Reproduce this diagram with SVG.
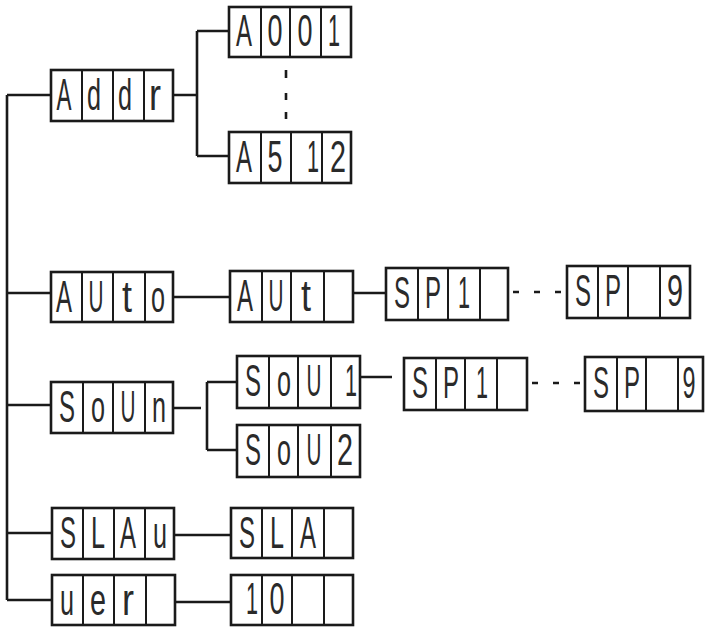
<svg xmlns="http://www.w3.org/2000/svg" width="706" height="628" viewBox="0 0 706 628">
<style>
.box{fill:#fff;stroke:#1a1a1a;stroke-width:2.6}
.div{stroke:#1a1a1a;stroke-width:2}
.ln{stroke:#1a1a1a;stroke-width:2.6;fill:none}
.dash{stroke:#1a1a1a;stroke-width:2.6;stroke-dasharray:6 15;fill:none}
.g{font-family:"Liberation Sans",Arial,sans-serif;font-size:44px;fill:#2a2a2a;text-anchor:middle}
</style>
<rect width="706" height="628" fill="#fff"/>
<g id="connectors">
<path class="ln" d="M7 95V600M7 95H51M7 293H51M7 405H51M7 533H52M7 600H52"/>
<path class="ln" d="M173 95H197M197 31V156M197 31H229M197 156H229"/>
<path class="ln" d="M286 70V78M286 93V100M286 112V119"/>
<path class="ln" d="M173 297H230M353 293H386"/>
<path class="dash" d="M513 292H562"/>
<path class="ln" d="M173 408H201M207 382V450M207 382H237M207 450H237M360 377H392"/>
<path class="dash" d="M532 383H583"/>
<path class="ln" d="M174 535H231M176 602H233"/>
</g>
<g id="addr">
<rect class="box" x="51" y="70" width="122" height="51"/>
<path class="div" d="M82 70V121M113 70V121M144 70V121"/>
<text class="g" x="64" y="110" textLength="15" lengthAdjust="spacingAndGlyphs">A</text>
<text class="g" x="94" y="110" textLength="14" lengthAdjust="spacingAndGlyphs">d</text>
<text class="g" x="125" y="110" textLength="14" lengthAdjust="spacingAndGlyphs">d</text>
<text class="g" x="155" y="110" textLength="12" lengthAdjust="spacingAndGlyphs">r</text>
</g>
<g id="a001">
<rect class="box" x="229" y="7" width="122" height="50"/>
<path class="div" d="M261 7V57M290 7V57M321 7V57"/>
<text class="g" x="244" y="46" textLength="16" lengthAdjust="spacingAndGlyphs">A</text>
<text class="g" x="275" y="46" textLength="15" lengthAdjust="spacingAndGlyphs">0</text>
<text class="g" x="305" y="46" textLength="15" lengthAdjust="spacingAndGlyphs">0</text>
<text class="g" x="334" y="46" textLength="12" lengthAdjust="spacingAndGlyphs">1</text>
</g>
<g id="a512">
<rect class="box" x="229" y="132" width="122" height="51"/>
<path class="div" d="M261 132V183M291 132V183M322 132V183"/>
<text class="g" x="244" y="172" textLength="16" lengthAdjust="spacingAndGlyphs">A</text>
<text class="g" x="275" y="172" textLength="15" lengthAdjust="spacingAndGlyphs">5</text>
<text class="g" x="313" y="172" textLength="12" lengthAdjust="spacingAndGlyphs">1</text>
<text class="g" x="338" y="172" textLength="16" lengthAdjust="spacingAndGlyphs">2</text>
</g>
<g id="auto">
<rect class="box" x="51" y="272" width="122" height="50"/>
<path class="div" d="M82 272V322M113 272V322M145 272V322"/>
<text class="g" x="64" y="312" textLength="16" lengthAdjust="spacingAndGlyphs">A</text>
<text class="g" x="96" y="312" textLength="15" lengthAdjust="spacingAndGlyphs">U</text>
<text class="g" x="127" y="312" textLength="10" lengthAdjust="spacingAndGlyphs">t</text>
<text class="g" x="158" y="312" textLength="14" lengthAdjust="spacingAndGlyphs">o</text>
</g>
<g id="aut">
<rect class="box" x="230" y="271" width="123" height="51"/>
<path class="div" d="M262 271V322M291 271V322M324 271V322"/>
<text class="g" x="245" y="311" textLength="16" lengthAdjust="spacingAndGlyphs">A</text>
<text class="g" x="276" y="311" textLength="15" lengthAdjust="spacingAndGlyphs">U</text>
<text class="g" x="306" y="311" textLength="10" lengthAdjust="spacingAndGlyphs">t</text>
</g>
<g id="sp1-auto">
<rect class="box" x="386" y="268" width="122" height="52"/>
<path class="div" d="M418 268V320M448 268V320M480 268V320"/>
<text class="g" x="402" y="308" textLength="16" lengthAdjust="spacingAndGlyphs">S</text>
<text class="g" x="433" y="308" textLength="16" lengthAdjust="spacingAndGlyphs">P</text>
<text class="g" x="464" y="308" textLength="12" lengthAdjust="spacingAndGlyphs">1</text>
</g>
<g id="sp9-auto">
<rect class="box" x="567" y="266" width="123" height="52"/>
<path class="div" d="M598 266V318M628 266V318M660 266V318"/>
<text class="g" x="583" y="306" textLength="16" lengthAdjust="spacingAndGlyphs">S</text>
<text class="g" x="613" y="306" textLength="16" lengthAdjust="spacingAndGlyphs">P</text>
<text class="g" x="675" y="306" textLength="16" lengthAdjust="spacingAndGlyphs">9</text>
</g>
<g id="soun">
<rect class="box" x="51" y="382" width="122" height="51"/>
<path class="div" d="M83 382V433M113 382V433M145 382V433"/>
<text class="g" x="67" y="422" textLength="16" lengthAdjust="spacingAndGlyphs">S</text>
<text class="g" x="98" y="422" textLength="14" lengthAdjust="spacingAndGlyphs">o</text>
<text class="g" x="128" y="422" textLength="15" lengthAdjust="spacingAndGlyphs">U</text>
<text class="g" x="159" y="422" textLength="14" lengthAdjust="spacingAndGlyphs">n</text>
</g>
<g id="sou1">
<rect class="box" x="237" y="356" width="123" height="52"/>
<path class="div" d="M269 356V408M298 356V408M331 356V408"/>
<text class="g" x="253" y="396" textLength="16" lengthAdjust="spacingAndGlyphs">S</text>
<text class="g" x="284" y="396" textLength="14" lengthAdjust="spacingAndGlyphs">o</text>
<text class="g" x="314" y="396" textLength="15" lengthAdjust="spacingAndGlyphs">U</text>
<text class="g" x="351" y="396" textLength="12" lengthAdjust="spacingAndGlyphs">1</text>
</g>
<g id="sou2">
<rect class="box" x="237" y="425" width="123" height="52"/>
<path class="div" d="M269 425V477M298 425V477M331 425V477"/>
<text class="g" x="253" y="465" textLength="16" lengthAdjust="spacingAndGlyphs">S</text>
<text class="g" x="284" y="465" textLength="14" lengthAdjust="spacingAndGlyphs">o</text>
<text class="g" x="314" y="465" textLength="15" lengthAdjust="spacingAndGlyphs">U</text>
<text class="g" x="345" y="465" textLength="16" lengthAdjust="spacingAndGlyphs">2</text>
</g>
<g id="sp1-sound">
<rect class="box" x="404" y="358" width="123" height="52"/>
<path class="div" d="M436 358V410M465 358V410M497 358V410"/>
<text class="g" x="420" y="398" textLength="16" lengthAdjust="spacingAndGlyphs">S</text>
<text class="g" x="451" y="398" textLength="16" lengthAdjust="spacingAndGlyphs">P</text>
<text class="g" x="482" y="398" textLength="12" lengthAdjust="spacingAndGlyphs">1</text>
</g>
<g id="sp9-sound">
<rect class="box" x="585" y="357" width="118" height="54"/>
<path class="div" d="M617 357V411M646 357V411M678 357V411"/>
<text class="g" x="601" y="398" textLength="16" lengthAdjust="spacingAndGlyphs">S</text>
<text class="g" x="632" y="398" textLength="16" lengthAdjust="spacingAndGlyphs">P</text>
<text class="g" x="689" y="398" textLength="13" lengthAdjust="spacingAndGlyphs">9</text>
</g>
<g id="slav">
<rect class="box" x="52" y="508" width="122" height="51"/>
<path class="div" d="M83 508V559M114 508V559M145 508V559"/>
<text class="g" x="68" y="548" textLength="16" lengthAdjust="spacingAndGlyphs">S</text>
<text class="g" x="98" y="548" textLength="14" lengthAdjust="spacingAndGlyphs">L</text>
<text class="g" x="128" y="548" textLength="16" lengthAdjust="spacingAndGlyphs">A</text>
<text class="g" x="160" y="548" textLength="14" lengthAdjust="spacingAndGlyphs">u</text>
</g>
<g id="sla">
<rect class="box" x="231" y="508" width="122" height="50"/>
<path class="div" d="M262 508V558M292 508V558M324 508V558"/>
<text class="g" x="247" y="548" textLength="16" lengthAdjust="spacingAndGlyphs">S</text>
<text class="g" x="277" y="548" textLength="14" lengthAdjust="spacingAndGlyphs">L</text>
<text class="g" x="308" y="548" textLength="16" lengthAdjust="spacingAndGlyphs">A</text>
</g>
<g id="ver">
<rect class="box" x="52" y="575" width="123" height="50"/>
<path class="div" d="M83 575V625M114 575V625M146 575V625"/>
<text class="g" x="67" y="615" textLength="14" lengthAdjust="spacingAndGlyphs">u</text>
<text class="g" x="98" y="615" textLength="16" lengthAdjust="spacingAndGlyphs">e</text>
<text class="g" x="128" y="615" textLength="12" lengthAdjust="spacingAndGlyphs">r</text>
</g>
<g id="ver10">
<rect class="box" x="231" y="575" width="122" height="50"/>
<path class="div" d="M262 575V625M292 575V625M324 575V625"/>
<text class="g" x="252" y="614" textLength="12" lengthAdjust="spacingAndGlyphs">1</text>
<text class="g" x="277" y="614" textLength="15" lengthAdjust="spacingAndGlyphs">0</text>
</g>
</svg>
